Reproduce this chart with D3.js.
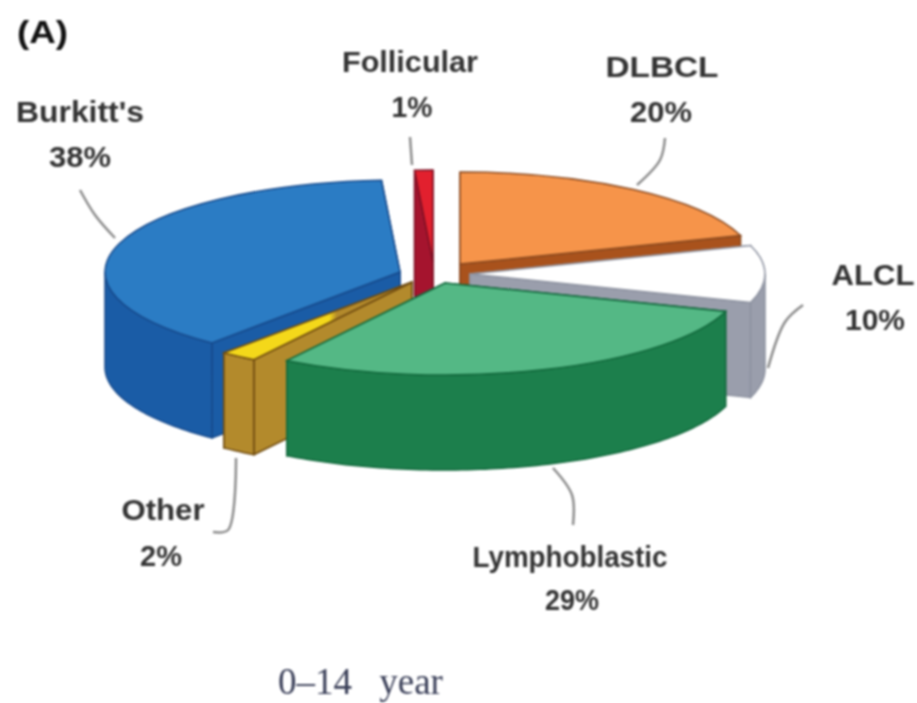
<!DOCTYPE html>
<html>
<head>
<meta charset="utf-8">
<script src="https://cdn.jsdelivr.net/npm/d3@7"></script>
<style>
    html, body { margin: 0; padding: 0; background: #fff; }
    svg { display: block; filter: blur(1px); }
    .label { font-family: "Liberation Sans", Arial, sans-serif; font-weight: bold; font-size: 29px; fill: #333; text-anchor: middle; }
</style>
</head>
<body>
<svg id="chart" width="917" height="703"></svg>
<script>
    const categories = ["DLBCL", "ALCL", "Lymphoblastic", "Other", "Burkitt's", "Follicular"];
    const percents = [20, 10, 29, 2, 38, 1];

    const topColors = ["#f6944a", "#ffffff", "#54b885", "url(#otherTop)", "#2b7cc4", "#e2202e"];
    const wallColors = ["#a9521c", "#9a9eac", "#1c7f4c", "#b38a2c", "#1a5ca6", "#a5142e"];
    const edgeColors = ["#8a4a20", "#8d92a0", "#12683c", "#6e4a10", "#174a8c", "#7d1024"];

    // where each slice sits once pulled out of the pie
    const explodeX = [460, 470, 445, 412, 400, 433];
    const explodeY = [264, 274, 283, 282, 272, 262];
    const depths = [95, 95, 95, 95, 95, 125];

    const labelX = [662, 873, 570, 163, 80, 410];
    const labelY = [67, 275, 557, 510, 112, 62];
    const labelWidth = [113, 83, 195, 83, 128, 136];
    const percentX = [661, 875, 572, 161, 80, 412];
    const percentY = [112, 320, 600, 556, 157, 107];
    const percentWidth = [62, 60, 54, 42, 62, 41];

    const leaders = [
        [[665, 138], [660, 160], [637, 185]],
        [[803, 305], [785, 322], [768, 368]],
        [[553, 468], [572, 495], [573, 525]],
        [[236, 458], [228, 530], [213, 532]],
        [[80, 190], [95, 215], [115, 238]],
        [[410, 137], [412, 165]]
    ];

    const radiusX = 295, radiusY = 92;

    const svg = d3.select("#chart");
    const pie = d3.pie().sort(null).value(d => d)(percents);
    const arc = d3.arc().innerRadius(0).outerRadius(radiusX);
    const line = d3.line();

    // the yellow top fades into the gold wall towards the centre
    const otherTop = svg.append("defs").append("linearGradient").attr("id", "otherTop");
    otherTop.append("stop").attr("offset", 0.56).attr("stop-color", "#f4d81a");
    otherTop.append("stop").attr("offset", 0.6).attr("stop-color", "#b38a2c");

    // angle 0 is straight up, going clockwise, same as d3.arc
    function rim(i, a) {
        return [explodeX[i] + radiusX * Math.sin(a), explodeY[i] - radiusY * Math.cos(a)];
    }

    function drop(i, p) {
        return [p[0], p[1] + depths[i]];
    }

    function radialWall(i, a) {
        const apex = [explodeX[i], explodeY[i]], end = rim(i, a);
        return [apex, end, drop(i, end), drop(i, apex)];
    }

    function outerWall(i, a0, a1) {
        const from = Math.max(a0, Math.PI / 2), to = Math.min(a1, Math.PI * 3 / 2);
        if (from >= to) return null;
        const angles = d3.range(from, to, 0.02).concat([to]);
        const upper = angles.map(a => rim(i, a));
        return upper.concat(upper.map(p => drop(i, p)).reverse());
    }

    const drawOrder = [4, 5, 0, 1, 3, 2];

    const slices = svg.append("g").selectAll("g")
        .data(drawOrder)
        .join("g");

    slices.each(function (i) {
        const g = d3.select(this), d = pie[i];

        // back edge first so the front edge paints over it
        const edges = [d.startAngle, d.endAngle].sort((a, b) => rim(i, a)[1] - rim(i, b)[1]);
        edges.forEach(a => {
            g.append("path")
                .attr("d", line(radialWall(i, a)) + "Z")
                .attr("fill", wallColors[i])
                .attr("stroke", edgeColors[i])
                .attr("stroke-width", 1.5);
        });

        const outer = outerWall(i, d.startAngle, d.endAngle);
        if (outer) {
            g.append("path")
                .attr("d", line(outer) + "Z")
                .attr("fill", wallColors[i])
                .attr("stroke", edgeColors[i])
                .attr("stroke-width", 1.5);
        }

        g.append("path")
            .attr("d", arc(d))
            .attr("transform", `translate(${explodeX[i]},${explodeY[i]}) scale(1,${radiusY / radiusX})`)
            .attr("fill", topColors[i])
            .attr("stroke", edgeColors[i])
            .attr("stroke-width", 1.5)
            .attr("vector-effect", "non-scaling-stroke");
    });

    svg.append("g").selectAll("path")
        .data(leaders)
        .join("path")
        .attr("d", d3.line().curve(d3.curveCatmullRom))
        .attr("fill", "none")
        .attr("stroke", "#8c8c8c")
        .attr("stroke-width", 2.5);

    svg.append("g").selectAll("text")
        .data(categories)
        .join("text")
        .attr("class", "label")
        .attr("x", (d, i) => labelX[i])
        .attr("y", (d, i) => labelY[i])
        .attr("dy", "0.36em")
        .attr("textLength", (d, i) => labelWidth[i])
        .attr("lengthAdjust", "spacingAndGlyphs")
        .text(d => d);

    svg.append("g").selectAll("text")
        .data(percents)
        .join("text")
        .attr("class", "label")
        .attr("x", (d, i) => percentX[i])
        .attr("y", (d, i) => percentY[i])
        .attr("dy", "0.36em")
        .attr("textLength", (d, i) => percentWidth[i])
        .attr("lengthAdjust", "spacingAndGlyphs")
        .text(d => d + "%");

    svg.append("text")
        .attr("x", 17)
        .attr("y", 43)
        .attr("font-family", "Liberation Sans, Arial, sans-serif")
        .attr("font-weight", "bold")
        .attr("font-size", 32)
        .attr("textLength", 51)
        .attr("lengthAdjust", "spacingAndGlyphs")
        .attr("fill", "#111")
        .text("(A)");

    svg.append("text")
        .attr("x", 278)
        .attr("y", 694)
        .attr("font-family", "Liberation Serif, Times New Roman, serif")
        .attr("font-size", 37)
        .attr("word-spacing", 18)
        .attr("fill", "#3a3f58")
        .text("0–14 year");
</script>
</body>
</html>
